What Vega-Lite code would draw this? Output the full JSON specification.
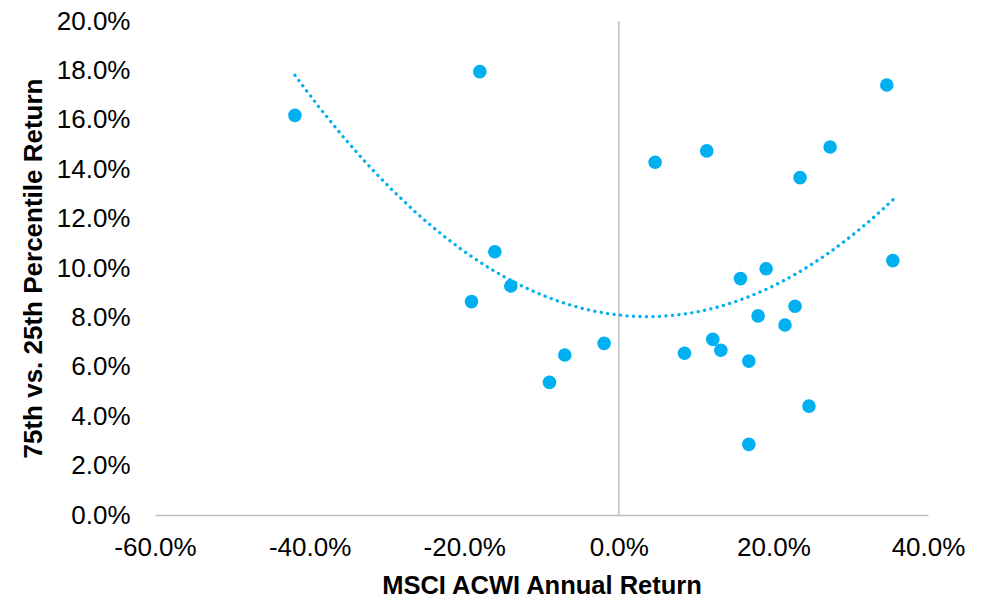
{
  "$schema": "https://vega.github.io/schema/vega-lite/v6.json",
  "width": 773,
  "height": 494,
  "autosize": {"type": "none"},
  "padding": {"left": 155, "top": 21, "right": 57, "bottom": 82},
  "background": "white",
  "config": {"view": {"stroke": null}, "font": "Liberation Sans"},
  "data": {"values": [
    {"ret": -0.419, "spread": 0.1618},
    {"ret": -0.1798, "spread": 0.1795},
    {"ret": -0.1906, "spread": 0.0864},
    {"ret": -0.1604, "spread": 0.1066},
    {"ret": -0.1397, "spread": 0.0927},
    {"ret": -0.0897, "spread": 0.0537},
    {"ret": -0.0699, "spread": 0.0648},
    {"ret": -0.019, "spread": 0.0695},
    {"ret": 0.047, "spread": 0.1428},
    {"ret": 0.085, "spread": 0.0655},
    {"ret": 0.1138, "spread": 0.1474},
    {"ret": 0.1216, "spread": 0.0711},
    {"ret": 0.132, "spread": 0.0667},
    {"ret": 0.1574, "spread": 0.0957},
    {"ret": 0.1682, "spread": 0.0623},
    {"ret": 0.1682, "spread": 0.0286},
    {"ret": 0.1802, "spread": 0.0806},
    {"ret": 0.1906, "spread": 0.0997},
    {"ret": 0.215, "spread": 0.0769},
    {"ret": 0.228, "spread": 0.0845},
    {"ret": 0.2345, "spread": 0.1366},
    {"ret": 0.246, "spread": 0.0441},
    {"ret": 0.2734, "spread": 0.149},
    {"ret": 0.3467, "spread": 0.1741},
    {"ret": 0.3545, "spread": 0.103}
  ]},
  "encoding": {
    "x": {
      "field": "ret", "type": "quantitative",
      "scale": {"domain": [-0.6, 0.4], "nice": false, "zero": false},
      "axis": {
        "title": "MSCI ACWI Annual Return",
        "format": ".1%",
        "labelExpr": "replace(datum.label, '\u2212', '-')",
        "values": [-0.6, -0.4, -0.2, 0, 0.2, 0.4],
        "grid": false, "ticks": false, "tickSize": 0,
        "domainColor": "#BFBFBF", "domainWidth": 1.5,
        "labelFontSize": 26, "labelColor": "#000000", "labelPadding": 19,
        "labelFont": "Liberation Sans", "labelFlush": false,
        "titleFont": "Liberation Sans", "titleFontSize": 25.5, "titleFontWeight": "bold",
        "titleColor": "#000000", "titleBaseline": "middle", "titleY": 70
      }
    },
    "y": {
      "field": "spread", "type": "quantitative",
      "scale": {"domain": [0, 0.2], "nice": false},
      "axis": {
        "title": "75th vs. 25th Percentile Return",
        "format": ".1%",
        "values": [0, 0.02, 0.04, 0.06, 0.08, 0.1, 0.12, 0.14, 0.16, 0.18, 0.2],
        "grid": false, "ticks": false, "tickSize": 0, "domain": false,
        "labelFontSize": 26, "labelColor": "#000000", "labelPadding": 25,
        "labelFont": "Liberation Sans", "labelFlush": false,
        "titleFont": "Liberation Sans", "titleFontSize": 26, "titleFontWeight": "bold",
        "titleColor": "#000000", "titleAngle": 270, "titleAlign": "center",
        "titleBaseline": "middle", "titleX": -122, "titleY": 247
      }
    }
  },
  "layer": [
    {
      "data": {"values": [{"x0": 0}]},
      "mark": {"type": "rule", "color": "#BFBFBF", "strokeWidth": 1.5},
      "encoding": {
        "x": {"field": "x0", "type": "quantitative"},
        "y": null
      }
    },
    {
      "mark": {"type": "circle", "size": 185, "color": "#00B0F0", "opacity": 1}
    },
    {
      "transform": [{"regression": "spread", "on": "ret", "method": "poly", "order": 2}],
      "mark": {"type": "line", "color": "#00B0F0", "strokeWidth": 3.3, "strokeDash": [0.1, 6.4], "strokeCap": "round"}
    }
  ]
}
